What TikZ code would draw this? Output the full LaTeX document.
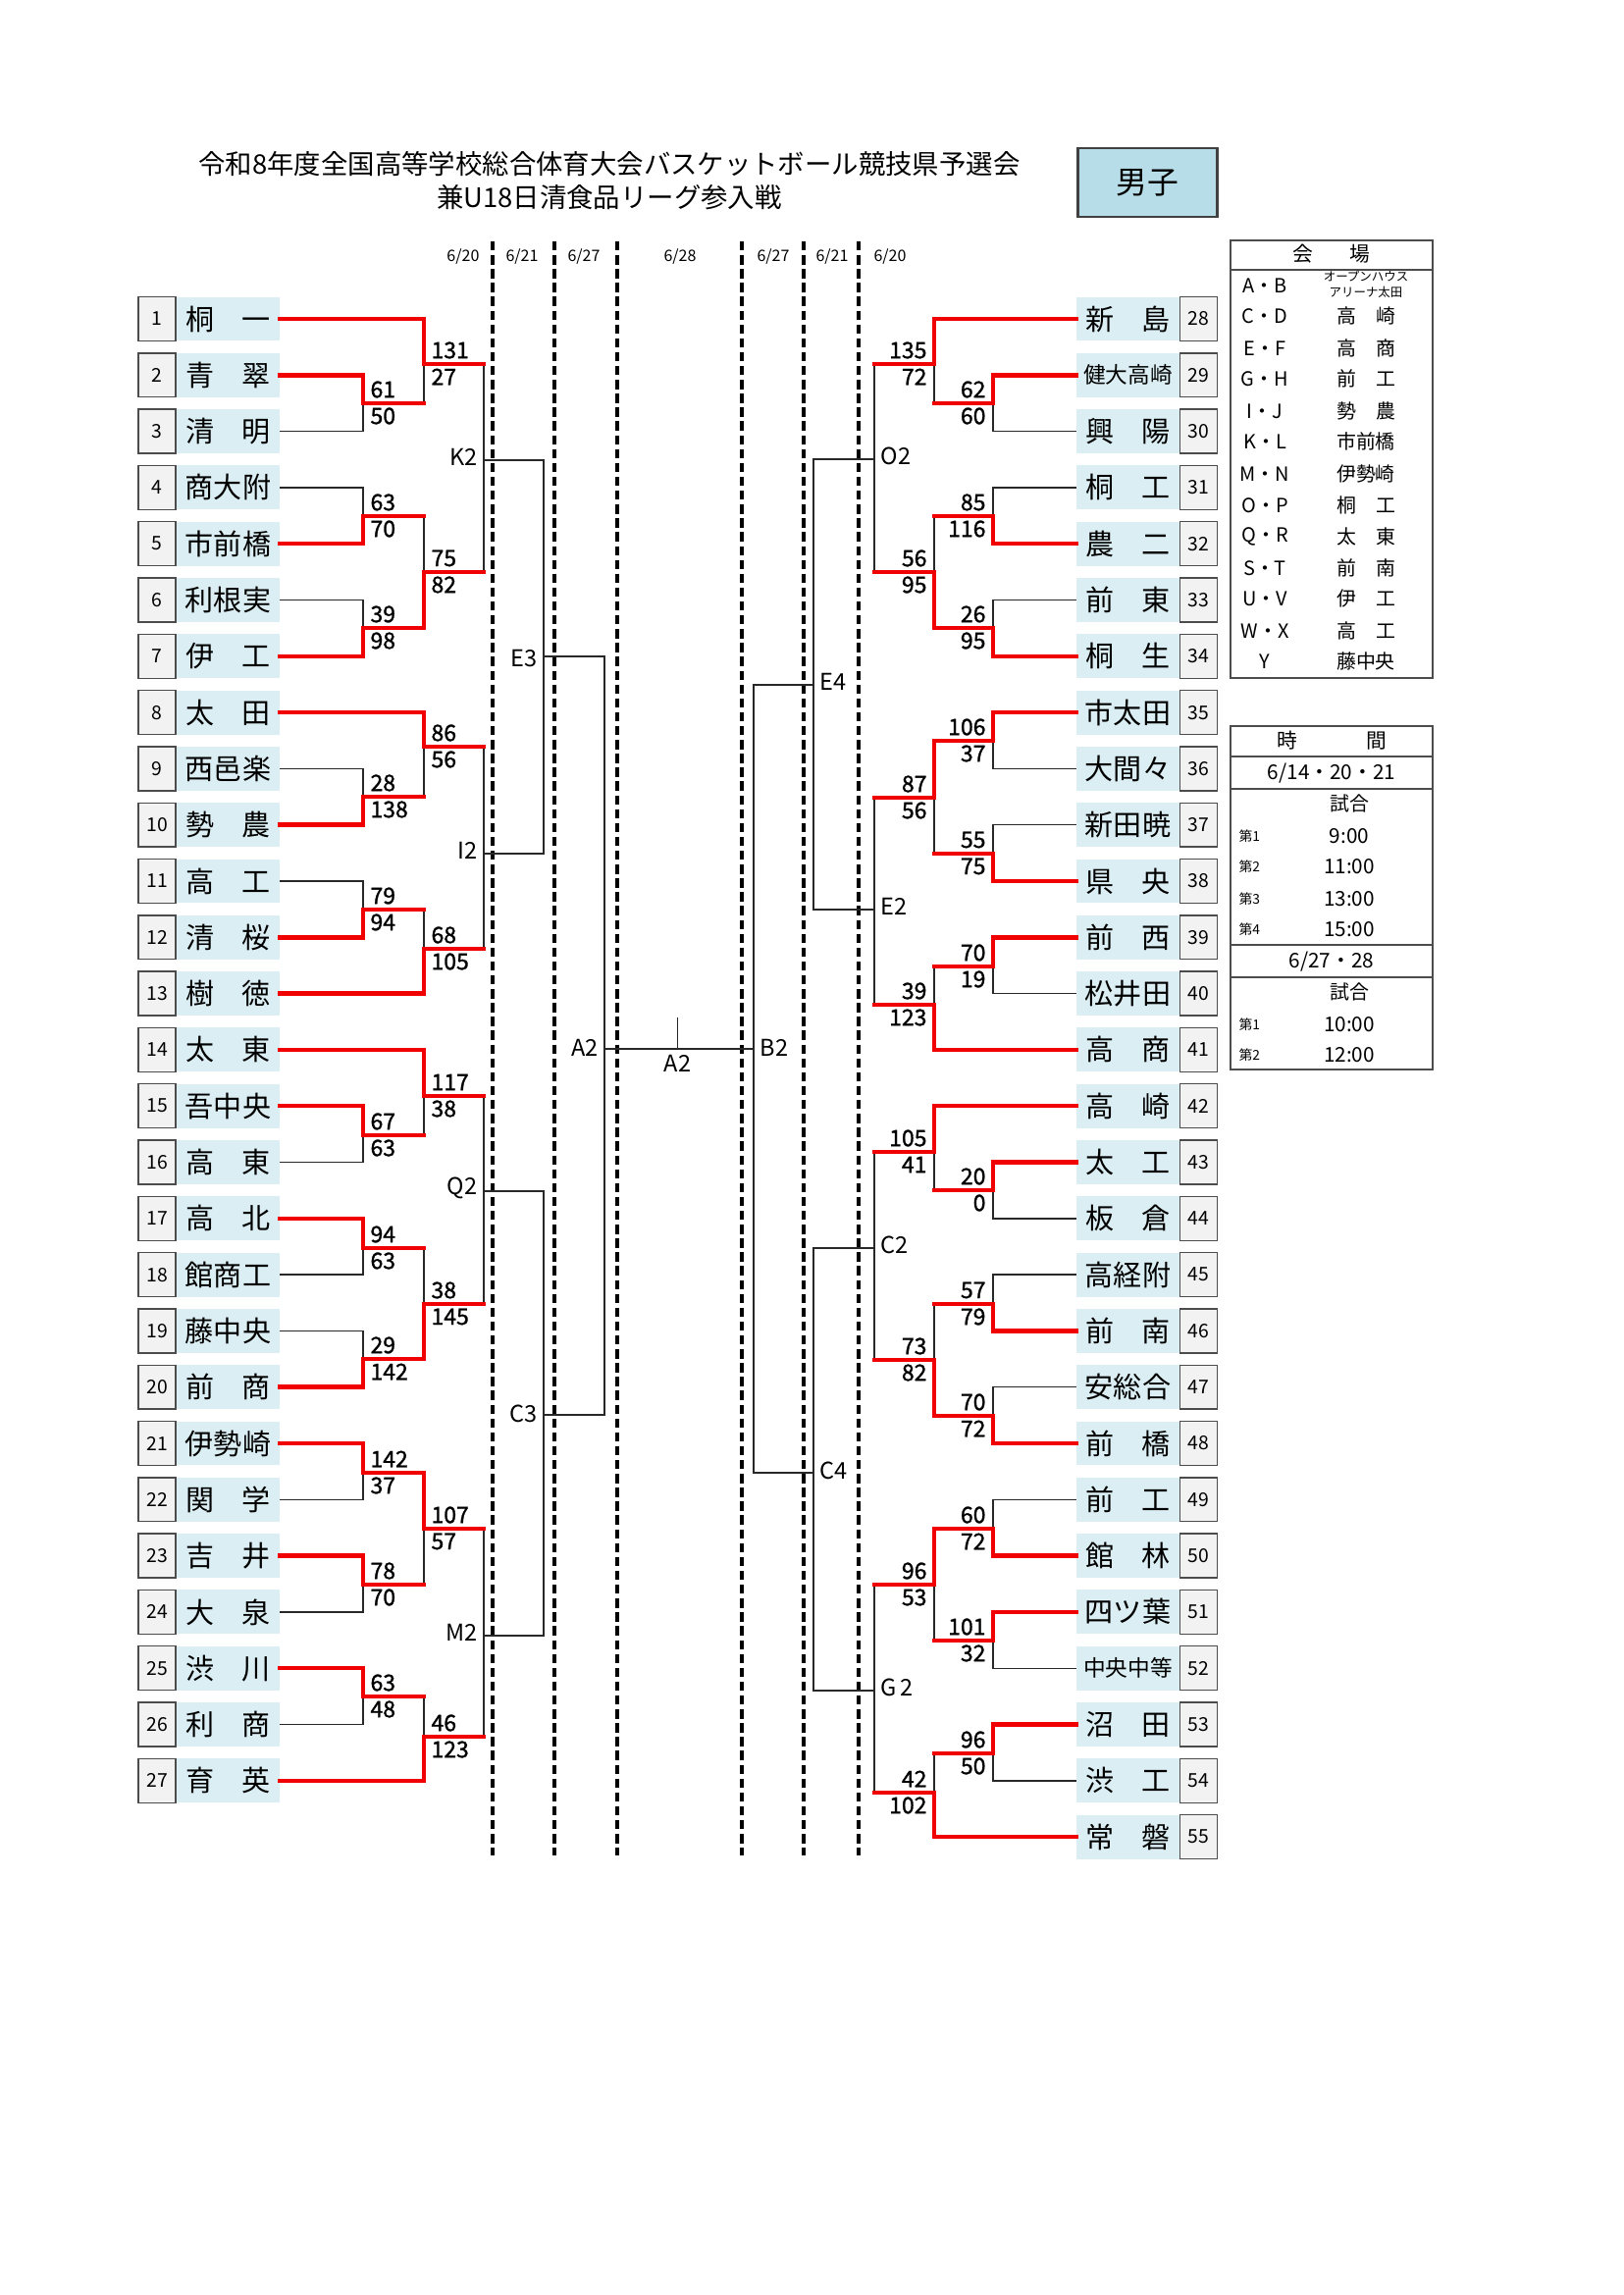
\documentclass[tikz,border=0pt]{standalone}
\usepackage{fontspec}
\setmainfont{Noto Sans CJK JP}
\newfontfamily\scf{Noto Sans CJK JP}[FakeBold=1.2]
\usetikzlibrary{calc}
\pgfdeclarelayer{fg}
\pgfsetlayers{main,fg}
\definecolor{namebg}{RGB}{218,238,243}
\definecolor{numbg}{RGB}{242,242,242}
\definecolor{boybg}{RGB}{183,222,232}
\definecolor{rline}{RGB}{240,0,0}
\definecolor{kline}{RGB}{40,40,40}
\newcommand\nm[2]{\makebox[10.9mm]{#1\hfill #2}}
\newcommand\lgn[2]{\makebox[7.6mm]{#1\hfill #2}}
\newcommand\bside[3]{%
  \ifcase#3\relax
    \draw[bk] (#1) -- (#1 -| #2) -- (#2);%
  \or
    \begin{pgfonlayer}{fg}\draw[rd] (#1) -- (#1 -| #2) -- (#2);\end{pgfonlayer}%
  \or
    \begin{pgfonlayer}{fg}\draw[rd] (#1) -- (#1 -| #2);\end{pgfonlayer}\draw[bk] (#1 -| #2) -- (#2);%
  \fi}
\newcommand\mt[7]{\coordinate (#1) at (#2,#3);\bside{#4}{#1}{#5}\bside{#6}{#1}{#7}}
\newcommand\scL[3]{\node[sc,anchor=west] (#1a) at ($(#1)+(7,-14)$) {#2};\node[sc,anchor=west] (#1b) at ($(#1)+(7,13)$) {#3};}
\newcommand\scR[3]{\node[sc,anchor=east] (#1a) at ($(#1)+(-7,-14)$) {#2};\node[sc,anchor=east] (#1b) at ($(#1)+(-7,13)$) {#3};}
\newcommand\lteam[2]{\node[numbox] (n#1) at (160,{325+(#1-1)*57.3}) {#1};\node[namebox] (t#1) at (232.5,{325+(#1-1)*57.3}) {#2};}
\newcommand\rteam[2]{\node[numbox] (n#1) at (1221.5,{325+(#1-28)*57.3}) {#1};\node[namebox] (t#1) at (1149.5,{325+(#1-28)*57.3}) {#2};}
\begin{document}
\begin{tikzpicture}[x=0.127mm,y=-0.127mm,
  bk/.style={draw=kline,line width=0.5pt},
  rd/.style={draw=rline,line width=1.6pt,line cap=rect},
  dsh/.style={draw=black,line width=1.1pt,dash pattern=on 3.4pt off 1.7pt},
  numbox/.style={draw=black!70,fill=numbg,line width=0.5pt,minimum width=4.8mm,minimum height=5.7mm,inner sep=0pt,font=\fontsize{7}{8}\selectfont},
  namebox/.style={fill=namebg,minimum width=13.3mm,minimum height=5.7mm,inner sep=0pt,font=\fontsize{10.5}{12}\selectfont},
  sc/.style={inner sep=0pt,font=\scf\fontsize{8.3}{9}\selectfont},
  rl/.style={inner sep=0pt,font=\fontsize{8.5}{9}\selectfont},
  dt/.style={inner sep=0pt,font=\fontsize{5.8}{6}\selectfont},
  lg/.style={inner sep=0pt,font=\fontsize{7.2}{8}\selectfont},
  lgs/.style={inner sep=0pt,font=\fontsize{4.5}{5}\selectfont}]
\useasboundingbox (0,0) rectangle (1654,2339);
% title
\node[inner sep=0pt,font=\fontsize{9.9}{11}\selectfont] (ttl1) at (621,167) {令和8年度全国高等学校総合体育大会バスケットボール競技県予選会};
\node[inner sep=0pt,font=\fontsize{9.9}{11}\selectfont] (ttl2) at (621,201) {兼U18日清食品リーグ参入戦};
\node[draw=black!75,line width=1pt,fill=boybg,minimum width=18.1mm,minimum height=8.9mm,inner sep=0pt,font=\fontsize{11.5}{12}\selectfont] (boy) at (1169.5,186) {男子};
% dates
\node[dt] (d1) at (472,262) {6/20};
\node[dt] (d2) at (532,262) {6/21};
\node[dt] (d3) at (595,262) {6/27};
\node[dt] (d4) at (693,262) {6/28};
\node[dt] (d5) at (788,262) {6/27};
\node[dt] (d6) at (848,262) {6/21};
\node[dt] (d7) at (907,262) {6/20};
% dashed lines
\foreach \xx in {502,565,629,756,819,875} {\draw[dsh] (\xx,246) -- (\xx,1891);}
% left teams
\lteam{1}{\nm{桐}{一}}
\lteam{2}{\nm{青}{翠}}
\lteam{3}{\nm{清}{明}}
\lteam{4}{商大附}
\lteam{5}{市前橋}
\lteam{6}{利根実}
\lteam{7}{\nm{伊}{工}}
\lteam{8}{\nm{太}{田}}
\lteam{9}{西邑楽}
\lteam{10}{\nm{勢}{農}}
\lteam{11}{\nm{高}{工}}
\lteam{12}{\nm{清}{桜}}
\lteam{13}{\nm{樹}{徳}}
\lteam{14}{\nm{太}{東}}
\lteam{15}{吾中央}
\lteam{16}{\nm{高}{東}}
\lteam{17}{\nm{高}{北}}
\lteam{18}{館商工}
\lteam{19}{藤中央}
\lteam{20}{\nm{前}{商}}
\lteam{21}{伊勢崎}
\lteam{22}{\nm{関}{学}}
\lteam{23}{\nm{吉}{井}}
\lteam{24}{\nm{大}{泉}}
\lteam{25}{\nm{渋}{川}}
\lteam{26}{\nm{利}{商}}
\lteam{27}{\nm{育}{英}}
% right teams
\rteam{28}{\nm{新}{島}}
\rteam{29}{\fontsize{8.2}{9}\selectfont 健大高崎}
\rteam{30}{\nm{興}{陽}}
\rteam{31}{\nm{桐}{工}}
\rteam{32}{\nm{農}{二}}
\rteam{33}{\nm{前}{東}}
\rteam{34}{\nm{桐}{生}}
\rteam{35}{市太田}
\rteam{36}{大間々}
\rteam{37}{新田暁}
\rteam{38}{\nm{県}{央}}
\rteam{39}{\nm{前}{西}}
\rteam{40}{松井田}
\rteam{41}{\nm{高}{商}}
\rteam{42}{\nm{高}{崎}}
\rteam{43}{\nm{太}{工}}
\rteam{44}{\nm{板}{倉}}
\rteam{45}{高経附}
\rteam{46}{\nm{前}{南}}
\rteam{47}{安総合}
\rteam{48}{\nm{前}{橋}}
\rteam{49}{\nm{前}{工}}
\rteam{50}{\nm{館}{林}}
\rteam{51}{四ツ葉}
\rteam{52}{\fontsize{8.2}{9}\selectfont 中央中等}
\rteam{53}{\nm{沼}{田}}
\rteam{54}{\nm{渋}{工}}
\rteam{55}{\nm{常}{磐}}
% ---- left bracket
\mt{m23}{370}{411}{t2.east}{1}{t3.east}{0}\scL{m23}{61}{50}
\mt{m1}{432}{371}{t1.east}{1}{m23}{2}\scL{m1}{131}{27}
\mt{m45}{370}{526}{t4.east}{0}{t5.east}{1}\scL{m45}{63}{70}
\mt{m67}{370}{640}{t6.east}{0}{t7.east}{1}\scL{m67}{39}{98}
\mt{m47}{432}{583}{m45}{2}{m67}{1}\scL{m47}{75}{82}
\mt{K2}{493}{469}{m1}{2}{m47}{2}
\mt{m910}{370}{812}{t9.east}{0}{t10.east}{1}\scL{m910}{28}{138}
\mt{m8}{432}{761}{t8.east}{1}{m910}{2}\scL{m8}{86}{56}
\mt{m1112}{370}{927}{t11.east}{0}{t12.east}{1}\scL{m1112}{79}{94}
\mt{m13}{432}{967}{m1112}{2}{t13.east}{1}\scL{m13}{68}{105}
\mt{I2}{493}{870}{m8}{2}{m13}{2}
\mt{m1516}{370}{1157}{t15.east}{1}{t16.east}{0}\scL{m1516}{67}{63}
\mt{m14}{432}{1117}{t14.east}{1}{m1516}{2}\scL{m14}{117}{38}
\mt{m1718}{370}{1272}{t17.east}{1}{t18.east}{0}\scL{m1718}{94}{63}
\mt{m1920}{370}{1385}{t19.east}{0}{t20.east}{1}\scL{m1920}{29}{142}
\mt{m1720}{432}{1329}{m1718}{2}{m1920}{1}\scL{m1720}{38}{145}
\mt{Q2}{493}{1214}{m14}{2}{m1720}{2}
\mt{m2122}{370}{1501}{t21.east}{1}{t22.east}{0}\scL{m2122}{142}{37}
\mt{m2324}{370}{1615}{t23.east}{1}{t24.east}{0}\scL{m2324}{78}{70}
\mt{m2124}{432}{1558}{m2122}{1}{m2324}{2}\scL{m2124}{107}{57}
\mt{m2526}{370}{1729}{t25.east}{1}{t26.east}{0}\scL{m2526}{63}{48}
\mt{m27}{432}{1770}{m2526}{2}{t27.east}{1}\scL{m27}{46}{123}
\mt{M2}{493}{1667}{m2124}{2}{m27}{2}
\mt{E3}{554}{669}{K2}{0}{I2}{0}
\mt{C3}{554}{1442}{Q2}{0}{M2}{0}
\mt{A2L}{616}{1069}{E3}{0}{C3}{0}
% ---- right bracket
\mt{m2930}{1012}{411}{t29.west}{1}{t30.west}{0}\scR{m2930}{62}{60}
\mt{m28}{952}{371}{t28.west}{1}{m2930}{2}\scR{m28}{135}{72}
\mt{m3132}{1012}{526}{t31.west}{0}{t32.west}{1}\scR{m3132}{85}{116}
\mt{m3334}{1012}{640}{t33.west}{0}{t34.west}{1}\scR{m3334}{26}{95}
\mt{m3134}{952}{583}{m3132}{2}{m3334}{1}\scR{m3134}{56}{95}
\mt{O2}{891}{468}{m28}{2}{m3134}{2}
\mt{m3536}{1012}{755}{t35.west}{1}{t36.west}{0}\scR{m3536}{106}{37}
\mt{m3738}{1012}{870}{t37.west}{0}{t38.west}{1}\scR{m3738}{55}{75}
\mt{m3538}{952}{813}{m3536}{1}{m3738}{2}\scR{m3538}{87}{56}
\mt{m3940}{1012}{985}{t39.west}{1}{t40.west}{0}\scR{m3940}{70}{19}
\mt{m41}{952}{1024}{m3940}{2}{t41.west}{1}\scR{m41}{39}{123}
\mt{E2}{891}{927}{m3538}{2}{m41}{2}
\mt{E4}{829}{698}{O2}{0}{E2}{0}
\mt{m4344}{1012}{1213}{t43.west}{1}{t44.west}{0}\scR{m4344}{20}{0}
\mt{m42}{952}{1174}{t42.west}{1}{m4344}{2}\scR{m42}{105}{41}
\mt{m4546}{1012}{1329}{t45.west}{0}{t46.west}{1}\scR{m4546}{57}{79}
\mt{m4748}{1012}{1443}{t47.west}{0}{t48.west}{1}\scR{m4748}{70}{72}
\mt{m4548}{952}{1386}{m4546}{2}{m4748}{1}\scR{m4548}{73}{82}
\mt{C2}{891}{1272}{m42}{2}{m4548}{2}
\mt{m4950}{1012}{1558}{t49.west}{0}{t50.west}{1}\scR{m4950}{60}{72}
\mt{m5152}{1012}{1672}{t51.west}{1}{t52.west}{0}\scR{m5152}{101}{32}
\mt{m4952}{952}{1615}{m4950}{1}{m5152}{2}\scR{m4952}{96}{53}
\mt{m5354}{1012}{1787}{t53.west}{1}{t54.west}{0}\scR{m5354}{96}{50}
\mt{m55}{952}{1827}{m5354}{2}{t55.west}{1}\scR{m55}{42}{102}
\mt{G2}{891}{1723}{m4952}{2}{m55}{2}
\mt{C4}{829}{1501}{C2}{0}{G2}{0}
\mt{B2}{768}{1069}{E4}{0}{C4}{0}
% final
\draw[bk] (A2L) -- (B2);
\coordinate (fin) at (690.5,1069);
\coordinate (fintop) at (690.5,1037);
\draw[bk] (fin) -- (fintop);
\node[rl] (finl) at (690.5,1084) {A2};
% round labels
\node[rl,anchor=east] (K2l) at ($(K2)+(-6,-3)$) {K2};
\node[rl,anchor=east] (I2l) at ($(I2)+(-6,-3)$) {I2};
\node[rl,anchor=east] (Q2l) at ($(Q2)+(-6,-3)$) {Q2};
\node[rl,anchor=east] (M2l) at ($(M2)+(-6,-3)$) {M2};
\node[rl,anchor=east] (E3l) at ($(E3)+(-6,2)$) {E3};
\node[rl,anchor=east] (C3l) at ($(C3)+(-6,-1)$) {C3};
\node[rl,anchor=east] (A2l) at ($(A2L)+(-6,-1)$) {A2};
\node[rl,anchor=west] (O2l) at ($(O2)+(6,-3)$) {O2};
\node[rl,anchor=west] (E2l) at ($(E2)+(6,-3)$) {E2};
\node[rl,anchor=west] (C2l) at ($(C2)+(6,-3)$) {C2};
\node[rl,anchor=west] (G2l) at ($(G2)+(6,-3)$) {G\,2};
\node[rl,anchor=west] (E4l) at ($(E4)+(6,-3)$) {E4};
\node[rl,anchor=west] (C4l) at ($(C4)+(6,-2)$) {C4};
\node[rl,anchor=west] (B2l) at ($(B2)+(6,-1)$) {B2};
% legend 1
\draw[black!70,line width=0.6pt] (1254,245) rectangle (1460,691);
\draw[black!70,line width=0.8pt] (1254,275) -- (1460,275);
\node[lg,font=\fontsize{7.5}{8}\selectfont] (v0) at (1357,259) {\makebox[10mm]{会\hfill 場}};
\node[lg] (va) at (1289,291) {A・B};
\node[lgs] (vb1) at (1392,282) {オープンハウス};
\node[lgs] (vb2) at (1392,298) {アリーナ太田};
\node[lg] (vc) at (1289,322) {C・D};  \node[lg] (vc2) at (1392,322) {\lgn{高}{崎}};
\node[lg] (ve) at (1289,355) {E・F};  \node[lg] (ve2) at (1392,355) {\lgn{高}{商}};
\node[lg] (vg) at (1289,386) {G・H};  \node[lg] (vg2) at (1392,386) {\lgn{前}{工}};
\node[lg] (vi) at (1289,419) {I・J};  \node[lg] (vi2) at (1392,419) {\lgn{勢}{農}};
\node[lg] (vk) at (1289,450) {K・L};  \node[lg] (vk2) at (1392,450) {市前橋};
\node[lg] (vm) at (1289,483) {M・N};  \node[lg] (vm2) at (1392,483) {伊勢崎};
\node[lg] (vo) at (1289,515) {O・P};  \node[lg] (vo2) at (1392,515) {\lgn{桐}{工}};
\node[lg] (vq) at (1289,547) {Q・R};  \node[lg] (vq2) at (1392,547) {\lgn{太}{東}};
\node[lg] (vs) at (1289,579) {S・T};  \node[lg] (vs2) at (1392,579) {\lgn{前}{南}};
\node[lg] (vu) at (1289,610) {U・V};  \node[lg] (vu2) at (1392,610) {\lgn{伊}{工}};
\node[lg] (vw) at (1289,643) {W・X};  \node[lg] (vw2) at (1392,643) {\lgn{高}{工}};
\node[lg] (vy) at (1289,674) {Y};    \node[lg] (vy2) at (1392,674) {藤中央};
% legend 2
\draw[black!70,line width=0.6pt] (1254,740) rectangle (1460,1090);
\foreach \yy in {771,804,963,996} {\draw[black!70,line width=0.6pt] (1254,\yy) -- (1460,\yy);}
\node[lg,font=\fontsize{7.5}{8}\selectfont] (h0) at (1357,755) {\makebox[14.2mm]{時\hfill 間}};
\node[lg,font=\fontsize{7.5}{8}\selectfont] (h1) at (1357,788) {6/14・20・21};
\node[lg] (h2) at (1375,819) {試合};
\node[lgs,anchor=west,font=\fontsize{5}{6}\selectfont] (h3a) at (1262,852) {第1}; \node[lg,font=\fontsize{7.5}{8}\selectfont] (h3b) at (1375,852) {9:00};
\node[lgs,anchor=west,font=\fontsize{5}{6}\selectfont] (h4a) at (1262,883) {第2}; \node[lg,font=\fontsize{7.5}{8}\selectfont] (h4b) at (1375,883) {11:00};
\node[lgs,anchor=west,font=\fontsize{5}{6}\selectfont] (h5a) at (1262,916) {第3}; \node[lg,font=\fontsize{7.5}{8}\selectfont] (h5b) at (1375,916) {13:00};
\node[lgs,anchor=west,font=\fontsize{5}{6}\selectfont] (h6a) at (1262,947) {第4}; \node[lg,font=\fontsize{7.5}{8}\selectfont] (h6b) at (1375,947) {15:00};
\node[lg,font=\fontsize{7.5}{8}\selectfont] (h7) at (1357,980) {6/27・28};
\node[lg] (h8) at (1375,1011) {試合};
\node[lgs,anchor=west,font=\fontsize{5}{6}\selectfont] (h9a) at (1262,1044) {第1}; \node[lg,font=\fontsize{7.5}{8}\selectfont] (h9b) at (1375,1044) {10:00};
\node[lgs,anchor=west,font=\fontsize{5}{6}\selectfont] (h10a) at (1262,1075) {第2}; \node[lg,font=\fontsize{7.5}{8}\selectfont] (h10b) at (1375,1075) {12:00};
\end{tikzpicture}
\end{document}
